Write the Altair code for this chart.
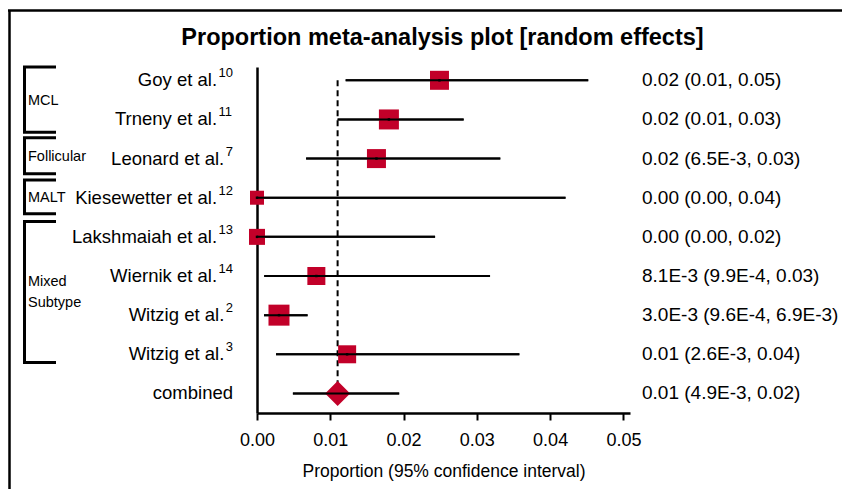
import altair as alt
import pandas as pd

# ---------------- data ----------------
studies = ["Goy et al.", "Trneny et al.", "Leonard et al.", "Kiesewetter et al.",
           "Lakshmaiah et al.", "Wiernik et al.", "Witzig et al.", "Witzig et al.", "combined"]
refs = ["10", "11", "7", "12", "13", "14", "2", "3", ""]
estimates = [0.0249, 0.0180, 0.0163, 0.0, 0.0, 0.0081, 0.0030, 0.0123, 0.0110]
lower = [0.0121, 0.0110, 0.0067, 0.0, 0.0, 0.00099, 0.00096, 0.0026, 0.0049]
upper = [0.0452, 0.0282, 0.0332, 0.0421, 0.0243, 0.0318, 0.0069, 0.0358, 0.0194]
value_labels = ["0.02 (0.01, 0.05)", "0.02 (0.01, 0.03)", "0.02 (6.5E-3, 0.03)",
                "0.00 (0.00, 0.04)", "0.00 (0.00, 0.02)", "8.1E-3 (9.9E-4, 0.03)",
                "3.0E-3 (9.6E-4, 6.9E-3)", "0.01 (2.6E-3, 0.04)", "0.01 (4.9E-3, 0.02)"]
weights = [19, 20, 19, 14, 16, 18, 21, 18, 25]   # relative study weight (marker side)
is_combined = [False] * 8 + [True]

group_names = ["MCL", "Follicular", "MALT", "Mixed\nSubtype"]
group_top = [-0.34, 1.47, 2.55, 3.61]
group_bottom = [1.33, 2.39, 3.41, 7.21]
group_label_row = [0.54, 1.96, 3.0, 5.16]

x_ticks = [0.0, 0.01, 0.02, 0.03, 0.04, 0.05]
title_text = "Proportion meta-analysis plot [random effects]"
x_title = "Proportion (95% confidence interval)"

FONT = "Liberation Sans, Arial, Helvetica, sans-serif"
RED = "#C20029"
SUP_SIZE = 13
SUP_DIGIT = 0.556 * SUP_SIZE
SUP_GAP = 1.5
NAME_RIGHT = -24

df = pd.DataFrame({
    "row": list(range(len(studies))),
    "name": studies, "ref": refs,
    "est": estimates, "lo": lower, "hi": upper,
    "vlab": value_labels, "w": weights, "combined": is_combined,
})
df["area"] = df["w"] ** 2
nref = df["ref"].str.len()
df["nx"] = NAME_RIGHT - nref * SUP_DIGIT - nref.clip(upper=1) * SUP_GAP

groups = pd.DataFrame({"g": group_names, "top": group_top, "bottom": group_bottom,
                       "lrow": group_label_row})
pooled = pd.DataFrame({"x": [estimates[-1]], "y0": [0], "y1": [len(studies) - 1],
                       "t": [title_text]})

xs = alt.Scale(domain=[0, 0.0509], nice=False, zero=False)
ys = alt.Scale(domain=[-0.34, 8.5], reverse=True, nice=False, zero=False)

x_axis = alt.Axis(values=x_ticks, format=".2f", grid=False, title=x_title,
                  titleFont=FONT, titleFontSize=17.5, titleFontWeight="normal",
                  titleColor="black", titlePadding=13,
                  labelFont=FONT, labelFontSize=18, labelColor="black", labelPadding=11,
                  labelFlush=False,
                  tickSize=7, tickWidth=2, tickColor="black",
                  domainColor="black", domainWidth=2.5)
y_axis = alt.Axis(labels=False, ticks=False, grid=False, title="",
                  domainColor="black", domainWidth=2.5)


def X(field):
    return alt.X(field, type="quantitative", scale=xs, axis=x_axis)


def Y(field):
    return alt.Y(field, type="quantitative", scale=ys, axis=y_axis)


base = alt.Chart(df)

ci = base.mark_rule(strokeWidth=2, color="black").encode(x=X("lo"), x2="hi:Q", y=Y("row"))

dashed = alt.Chart(pooled).mark_rule(strokeDash=[6, 4], strokeWidth=2, color="black").encode(
    x=X("x"), y=Y("y0"), y2="y1:Q")

squares = base.transform_filter("!datum.combined").mark_square(
    color=RED, opacity=1, filled=True).encode(
    x=X("est"), y=Y("row"), size=alt.Size("area:Q", scale=None, legend=None))

dots = base.transform_filter("!datum.combined").mark_square(
    color="black", size=6, opacity=1).encode(x=X("est"), y=Y("row"))

diamond = base.transform_filter("datum.combined").mark_point(
    shape="diamond", filled=True, color=RED, opacity=1).encode(
    x=X("est"), y=Y("row"), size=alt.Size("area:Q", scale=None, legend=None))

names = base.mark_text(align="right", baseline="middle", font=FONT, fontSize=18.5,
                       color="black").encode(
    x=alt.X("nx:Q", scale=None, axis=None), y=Y("row"), text="name:N")

sups = base.transform_filter("datum.ref != ''").mark_text(
    align="left", baseline="middle", font=FONT, fontSize=SUP_SIZE, color="black",
    dx=SUP_GAP, dy=-7).encode(
    x=alt.X("nx:Q", scale=None, axis=None), y=Y("row"), text="ref:N")

vals = base.mark_text(align="left", baseline="middle", font=FONT, fontSize=19,
                      color="black").encode(
    x=alt.value(385), y=Y("row"), text="vlab:N")

gb = alt.Chart(groups)
g_vert = gb.mark_rule(strokeWidth=3, color="black").encode(
    x=alt.value(-232.5), y=Y("top"), y2="bottom:Q")
g_top = gb.mark_rule(strokeWidth=3, color="black").encode(
    x=alt.value(-234), x2=alt.value(-201), y=Y("top"))
g_bot = gb.mark_rule(strokeWidth=3, color="black").encode(
    x=alt.value(-234), x2=alt.value(-201), y=Y("bottom"))
g_lab = gb.mark_text(align="left", baseline="middle", font=FONT, fontSize=14.5,
                     color="black", lineBreak="\n", lineHeight=20.5).encode(
    x=alt.value(-229), y=Y("lrow"), text="g:N")

pb = alt.Chart(pooled)
title = pb.mark_text(align="center", baseline="alphabetic", font=FONT, fontSize=23.5,
                     fontWeight="bold", color="black").encode(
    x=alt.value(185.5), y=alt.value(-22), text="t:N")
frame_left = pb.mark_rule(strokeWidth=2.5, color="black").encode(
    x=alt.value(-247.5), y=alt.value(-56.5), y2=alt.value(440))
frame_top = pb.mark_rule(strokeWidth=2.5, color="black").encode(
    x=alt.value(-249), x2=alt.value(600), y=alt.value(-56.5))

chart = alt.layer(
    ci, dashed, squares, diamond, ci, dots,
    names, sups, vals, g_vert, g_top, g_bot, g_lab, title, frame_left, frame_top
).properties(
    width=373, height=346,
    autosize=alt.AutoSizeParams(type="none"),
    padding={"left": 249, "top": 59, "right": 212, "bottom": 76},
).configure(background="white").configure_view(stroke=None)

chart.save("out.html", embed_options={"renderer": "svg", "actions": False})
